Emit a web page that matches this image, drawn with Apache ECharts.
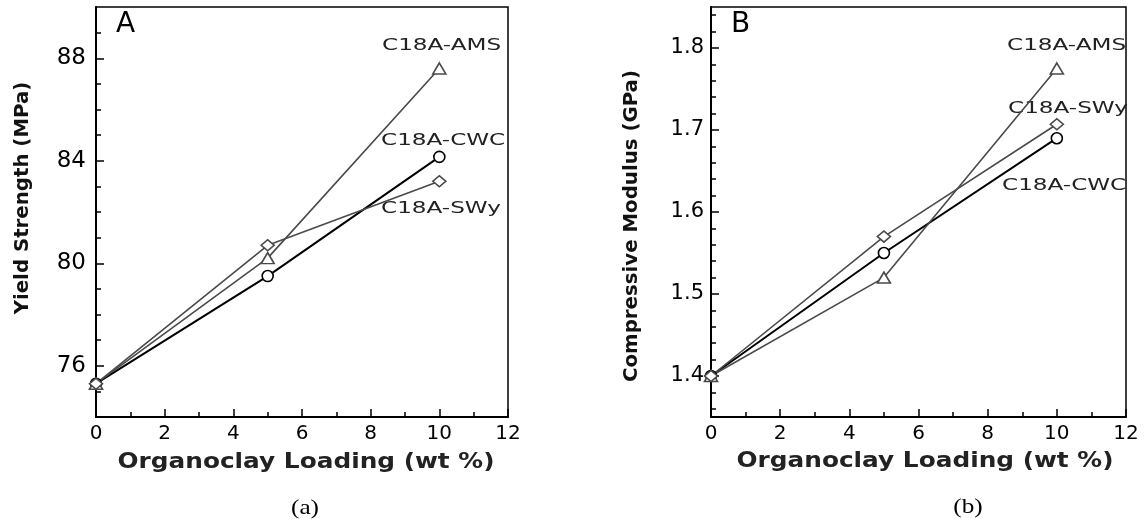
<!DOCTYPE html>
<html>
<head>
<meta charset="utf-8">
<script src="https://cdn.jsdelivr.net/npm/echarts@6/dist/echarts.min.js"></script>
<style>
  html, body { margin: 0; padding: 0; background: #fff; }
  #chart { width: 1146px; height: 519px; }
</style>
</head>
<body>
<div id="chart"></div>
<script>
// Organoclay loading (wt %) at which each composite was tested
const loading = [0, 5, 10];

// Panel A: yield strength (MPa)
const yieldAMS = [75.3, 80.2, 87.6];
const yieldCWC = [75.3, 79.5, 84.15];
const yieldSWy = [75.3, 80.7, 83.2];

// Panel B: compressive modulus (GPa)
const modAMS = [1.40, 1.52, 1.775];
const modCWC = [1.40, 1.55, 1.69];
const modSWy = [1.40, 1.57, 1.707];

const clayNames = ['C18A-AMS', 'C18A-CWC', 'C18A-SWy'];

// Tick values
const yieldMajor = [76, 80, 84, 88];
const yieldMinor = [75, 77, 78, 79, 81, 82, 83, 85, 86, 87, 89];
const modMajor = [1.4, 1.5, 1.6, 1.7, 1.8];
const modMinor = [1.36, 1.38, 1.42, 1.44, 1.46, 1.48, 1.52, 1.54, 1.56, 1.58,
                  1.62, 1.64, 1.66, 1.68, 1.72, 1.74, 1.76, 1.78, 1.82, 1.84];

const FONT = 'DejaVu Sans';
const GREY = '#4a4a4a';

const pairs = (ys) => loading.map((x, i) => [x, ys[i]]);

function xAxisFor(grid) {
  return {
    gridIndex: grid, type: 'value', min: 0, max: 12, interval: 2,
    axisLine: { lineStyle: { color: '#000', width: 2 } },
    axisTick: { inside: true, length: 8, lineStyle: { color: '#000', width: 1.5 } },
    minorTick: { show: true, splitNumber: 2, length: 5, lineStyle: { color: '#000', width: 1.5 } },
    axisLabel: { fontFamily: FONT, fontSize: 20, color: '#000', margin: 7 },
    splitLine: { show: false }, minorSplitLine: { show: false }
  };
}

function yAxisPair(grid, min, max, major, minor, size, margin, fmt) {
  return [{
    gridIndex: grid, type: 'value', position: 'left', min: min, max: max,
    axisLine: { lineStyle: { color: '#000', width: 2 } },
    axisTick: { inside: true, length: 8, customValues: major, lineStyle: { color: '#000', width: 1.5 } },
    axisLabel: { customValues: major, fontFamily: FONT, fontSize: size, color: '#000', margin: margin, formatter: fmt },
    splitLine: { show: false }
  }, {
    gridIndex: grid, type: 'value', position: 'left', min: min, max: max,
    axisLine: { show: false },
    axisTick: { inside: true, length: 5, customValues: minor, lineStyle: { color: '#000', width: 1.5 } },
    axisLabel: { show: false },
    splitLine: { show: false }
  }];
}

function lineSeries(xi, yi, name, ys, symbol, size, color, width) {
  return {
    type: 'line', name: name, xAxisIndex: xi, yAxisIndex: yi,
    data: pairs(ys), symbol: symbol, symbolSize: size, showSymbol: true,
    lineStyle: { color: color, width: width },
    itemStyle: { color: '#fff', borderColor: color, borderWidth: 1.6 },
    z: 3
  };
}

function txt(text, x, y, opts) {
  return Object.assign({
    type: 'text', x: x, y: y, silent: true,
    style: Object.assign({
      text: text, fill: '#000', fontFamily: FONT, fontSize: 16,
      textAlign: 'left', textVerticalAlign: 'middle'
    }, opts.style || {})
  }, opts.el || {});
}

const chart = echarts.init(document.getElementById('chart'), null, { renderer: 'canvas' });

chart.setOption({
  animation: false,
  backgroundColor: '#fff',
  grid: [
    { left: 96, top: 7, right: 638, bottom: 102, show: true, borderColor: '#000', borderWidth: 1.5 },
    { left: 711, top: 7, right: 20, bottom: 102, show: true, borderColor: '#000', borderWidth: 1.5 }
  ],
  xAxis: [xAxisFor(0), xAxisFor(1)],
  yAxis: [].concat(
    yAxisPair(0, 74, 90, yieldMajor, yieldMinor, 23, 10, (v) => String(v)),
    yAxisPair(1, 1.35, 1.85, modMajor, modMinor, 21, 7, (v) => v.toFixed(1))
  ),
  series: [
    lineSeries(0, 0, clayNames[1], yieldCWC, 'circle', 11, '#000', 2),
    lineSeries(0, 0, clayNames[0], yieldAMS, 'triangle', [13, 11], GREY, 1.6),
    lineSeries(0, 0, clayNames[2], yieldSWy, 'diamond', [13, 11], GREY, 1.6),
    lineSeries(1, 2, clayNames[1], modCWC, 'circle', 11, '#000', 2),
    lineSeries(1, 2, clayNames[0], modAMS, 'triangle', [13, 11], GREY, 1.6),
    lineSeries(1, 2, clayNames[2], modSWy, 'diamond', [13, 11], GREY, 1.6)
  ],
  graphic: [
    // panel letters
    txt('A', 116, 25, { style: { fontSize: 28 } }),
    txt('B', 731, 25, { style: { fontSize: 28 } }),
    // curve labels, panel A
    txt(clayNames[0], 382, 46, { el: { scaleX: 1.4 }, style: { fontSize: 16.5, fill: '#222' } }),
    txt(clayNames[1], 381, 141, { el: { scaleX: 1.4 }, style: { fontSize: 16.5, fill: '#222' } }),
    txt(clayNames[2], 381, 209, { el: { scaleX: 1.4 }, style: { fontSize: 16.5, fill: '#222' } }),
    // curve labels, panel B
    txt(clayNames[0], 1007, 46, { el: { scaleX: 1.4 }, style: { fontSize: 16.5, fill: '#222' } }),
    txt(clayNames[2], 1008, 109, { el: { scaleX: 1.4 }, style: { fontSize: 16.5, fill: '#222' } }),
    txt(clayNames[1], 1002, 186, { el: { scaleX: 1.4 }, style: { fontSize: 16.5, fill: '#222' } }),
    // axis titles
    txt('Yield Strength (MPa)', 23, 198, { el: { rotation: Math.PI / 2, scaleX: 1.04 },
      style: { fontWeight: 'bold', fontSize: 19, textAlign: 'center', fill: '#111' } }),
    txt('Compressive Modulus (GPa)', 632, 226, { el: { rotation: Math.PI / 2, scaleX: 1.04 },
      style: { fontWeight: 'bold', fontSize: 19, textAlign: 'center', fill: '#111' } }),
    txt('Organoclay Loading (wt %)', 306, 463, { el: { scaleX: 1.18 },
      style: { fontWeight: 'bold', fontSize: 21, textAlign: 'center', fill: '#222' } }),
    txt('Organoclay Loading (wt %)', 925, 462, { el: { scaleX: 1.18 },
      style: { fontWeight: 'bold', fontSize: 21, textAlign: 'center', fill: '#222' } }),
    // panel captions
    txt('(a)', 305, 508, { el: { scaleX: 1.2 },
      style: { fontFamily: 'Liberation Serif', fontSize: 21, textAlign: 'center' } }),
    txt('(b)', 968, 507, { el: { scaleX: 1.2 },
      style: { fontFamily: 'Liberation Serif', fontSize: 21, textAlign: 'center' } })
  ]
});
</script>
</body>
</html>
